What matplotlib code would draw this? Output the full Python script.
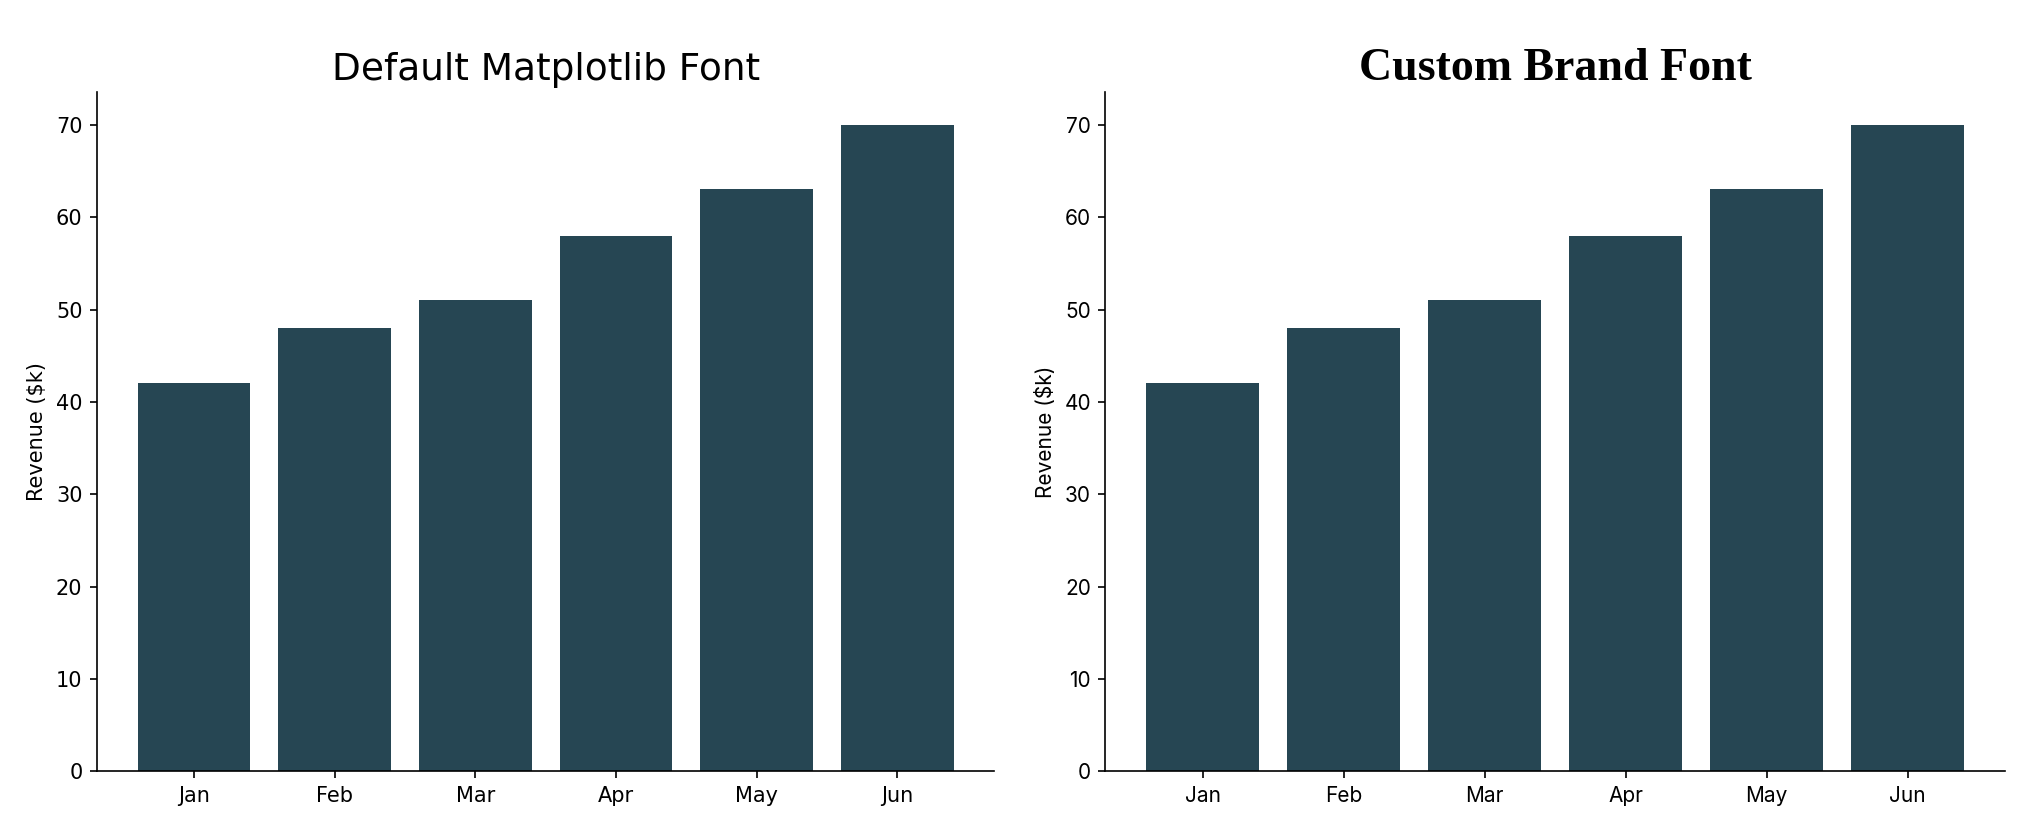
import matplotlib
matplotlib.use("Agg")
import matplotlib.pyplot as plt

months = ["Jan", "Feb", "Mar", "Apr", "May", "Jun"]
revenue = [42, 48, 51, 58, 63, 70]
color = "#264653"

fig = plt.figure(figsize=(20.21/1.5, 8.33/1.5), dpi=150)
ax1 = fig.add_axes([0.048, 0.074, 0.444, 0.815])
ax2 = fig.add_axes([0.547, 0.074, 0.445, 0.815])

for ax in (ax1, ax2):
    ax.bar(months, revenue, color=color)
    ax.spines["top"].set_visible(False)
    ax.spines["right"].set_visible(False)
    ax.set_ylim(0, 73.5)

ax1.set_title("Default Matplotlib Font", fontsize=18)
ax1.set_ylabel("Revenue ($k)")

ax2.set_title("Custom Brand Font", fontsize=22, fontweight="bold", family="Liberation Serif")
ax2.set_ylabel("Revenue ($k)", family="Inter")
for lbl in ax2.get_xticklabels() + ax2.get_yticklabels():
    lbl.set_family("Inter")

fig.savefig("out.png", dpi=150)
